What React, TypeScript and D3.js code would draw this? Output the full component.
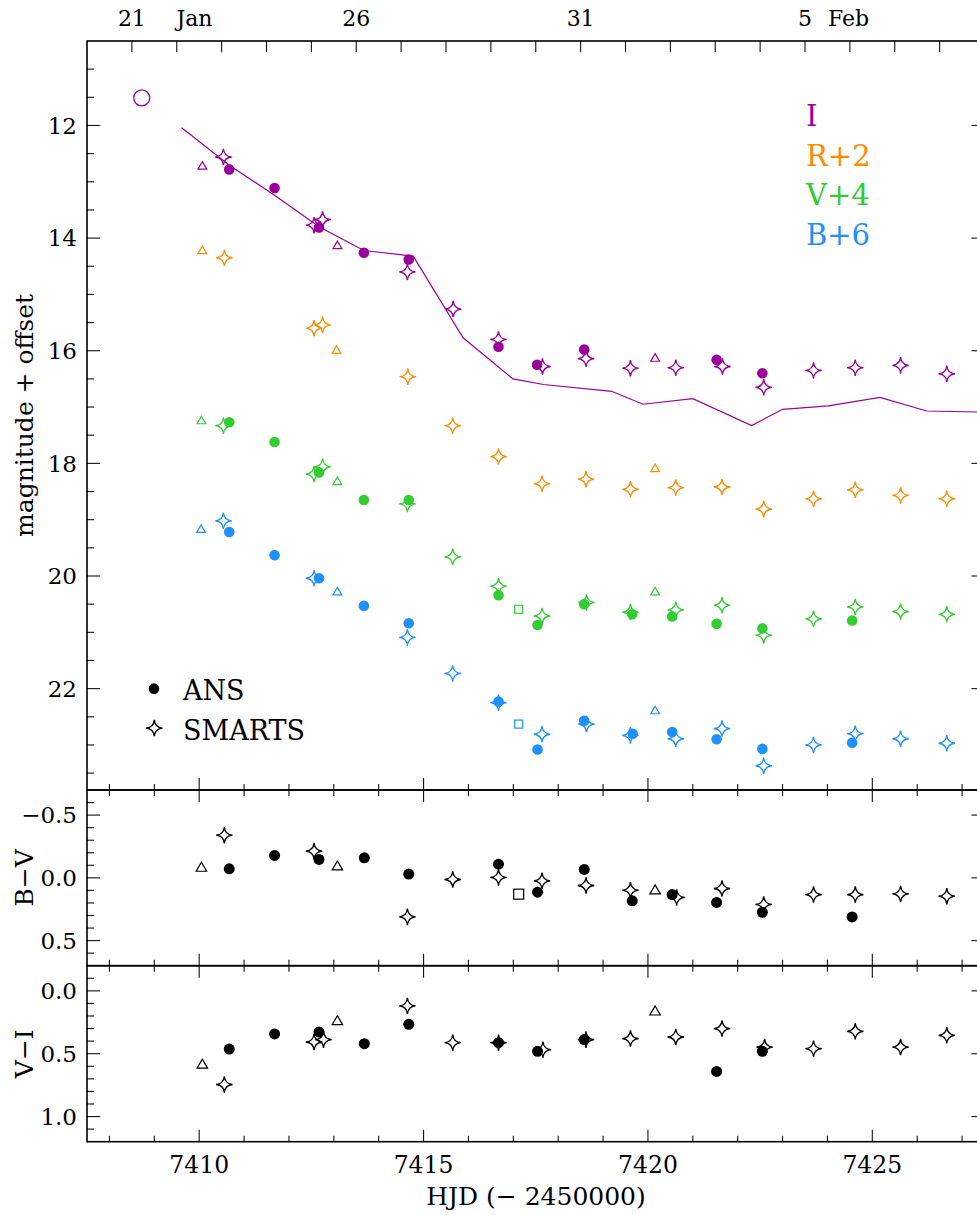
import React from "react";
import * as d3 from "d3";

// ---------- data (HJD - 2450000, magnitude + offset) ----------
const I_ANS: [number, number][] = [
  [7410.67, 12.78], [7411.68, 13.11], [7412.67, 13.81], [7413.67, 14.26], [7414.67, 14.38],
  [7416.67, 15.93], [7417.53, 16.25], [7418.58, 15.98], [7421.53, 16.16], [7422.55, 16.40],
];
const I_SMARTS: [number, number][] = [
  [7410.54, 12.56], [7412.56, 13.77], [7412.75, 13.67], [7414.64, 14.60], [7415.66, 15.26],
  [7416.67, 15.80], [7417.65, 16.28], [7418.62, 16.14], [7419.61, 16.31], [7420.62, 16.30],
  [7421.66, 16.28], [7422.58, 16.65], [7423.69, 16.35], [7424.62, 16.30], [7425.63, 16.26],
  [7426.66, 16.41],
];
const I_OTHER: [number, number][] = [[7410.07, 12.72], [7413.08, 14.13], [7420.16, 16.13]];
const I_EARLY: [number, number][] = [[7408.72, 11.51]];
const I_CURVE: [number, number][] = [
  [7409.61, 12.04], [7410.68, 12.71], [7411.72, 13.26], [7412.67, 13.80], [7413.67, 14.22],
  [7414.77, 14.32], [7415.88, 15.77], [7416.99, 16.50], [7417.67, 16.60], [7419.19, 16.72],
  [7419.89, 16.95], [7421.0, 16.85], [7422.31, 17.33], [7423.0, 17.04], [7424.02, 16.98],
  [7425.17, 16.83], [7426.21, 17.07], [7427.5, 17.09],
];

const R_SMARTS: [number, number][] = [
  [7410.56, 14.35], [7412.56, 15.60], [7412.75, 15.54], [7414.65, 16.46], [7415.65, 17.33],
  [7416.67, 17.88], [7417.64, 18.36], [7418.62, 18.28], [7419.61, 18.46], [7420.62, 18.43],
  [7421.65, 18.42], [7422.58, 18.81], [7423.69, 18.63], [7424.62, 18.47], [7425.63, 18.57],
  [7426.66, 18.63],
];
const R_OTHER: [number, number][] = [[7410.07, 14.22], [7413.06, 15.99], [7420.16, 18.09]];

const V_ANS: [number, number][] = [
  [7410.67, 17.27], [7411.68, 17.62], [7412.67, 18.16], [7413.67, 18.65], [7414.67, 18.65],
  [7416.67, 20.34], [7417.54, 20.87], [7418.58, 20.50], [7419.65, 20.68], [7420.54, 20.72],
  [7421.53, 20.85], [7422.55, 20.93], [7424.55, 20.79],
];
const V_SMARTS: [number, number][] = [
  [7410.54, 17.33], [7412.56, 18.19], [7412.75, 18.06], [7414.64, 18.72], [7415.65, 19.66],
  [7416.67, 20.18], [7417.64, 20.71], [7418.63, 20.47], [7419.61, 20.64], [7420.62, 20.60],
  [7421.65, 20.52], [7422.58, 21.05], [7423.69, 20.76], [7424.62, 20.55], [7425.63, 20.63],
  [7426.66, 20.68],
];
const V_OTHER: [number, number][] = [[7410.05, 17.24], [7413.08, 18.32], [7420.16, 20.28]];
const V_SQUARE: [number, number][] = [[7417.12, 20.59]];

const B_ANS: [number, number][] = [
  [7410.67, 19.22], [7411.68, 19.63], [7412.67, 20.04], [7413.67, 20.53], [7414.67, 20.84],
  [7416.67, 22.23], [7417.54, 23.08], [7418.58, 22.57], [7419.66, 22.80], [7420.54, 22.77],
  [7421.53, 22.90], [7422.55, 23.07], [7424.55, 22.96],
];
const B_SMARTS: [number, number][] = [
  [7410.54, 19.02], [7412.56, 20.04], [7414.64, 21.09], [7415.65, 21.73], [7416.67, 22.25],
  [7417.64, 22.81], [7418.63, 22.63], [7419.61, 22.83], [7420.62, 22.89], [7421.65, 22.71],
  [7422.58, 23.37], [7423.69, 23.00], [7424.62, 22.80], [7425.63, 22.89], [7426.66, 22.97],
];
const B_OTHER: [number, number][] = [[7410.04, 19.17], [7413.08, 20.28], [7420.16, 22.39]];
const B_SQUARE: [number, number][] = [[7417.12, 22.63]];

const BV_ANS: [number, number][] = [
  [7410.67, -0.072], [7411.68, -0.179], [7412.67, -0.147], [7413.68, -0.16], [7414.67, -0.03],
  [7416.67, -0.109], [7417.54, 0.114], [7418.58, -0.067], [7419.65, 0.183], [7420.54, 0.133],
  [7421.53, 0.196], [7422.55, 0.274], [7424.55, 0.311],
];
const BV_SMARTS: [number, number][] = [
  [7410.56, -0.34], [7412.56, -0.213], [7414.64, 0.311], [7415.65, 0.013], [7416.67, -0.003],
  [7417.64, 0.024], [7418.62, 0.061], [7419.61, 0.098], [7420.64, 0.156], [7421.65, 0.085],
  [7422.58, 0.212], [7423.69, 0.133], [7424.62, 0.133], [7425.63, 0.128], [7426.66, 0.146],
];
const BV_OTHER: [number, number][] = [[7410.05, -0.083], [7413.08, -0.093], [7420.16, 0.098]];
const BV_SQUARE: [number, number][] = [[7417.12, 0.13]];

const VI_ANS: [number, number][] = [
  [7410.67, 0.463], [7411.68, 0.343], [7412.67, 0.327], [7413.68, 0.42], [7414.67, 0.266],
  [7416.67, 0.412], [7417.54, 0.481], [7418.58, 0.388], [7421.53, 0.641], [7422.55, 0.481],
];
const VI_SMARTS: [number, number][] = [
  [7410.56, 0.745], [7412.56, 0.407], [7412.77, 0.388], [7414.64, 0.12], [7415.65, 0.412],
  [7416.67, 0.412], [7417.66, 0.468], [7418.62, 0.388], [7419.61, 0.38], [7420.62, 0.367],
  [7421.65, 0.30], [7422.6, 0.447], [7423.69, 0.46], [7424.62, 0.322], [7425.63, 0.447],
  [7426.66, 0.354],
];
const VI_OTHER: [number, number][] = [[7410.07, 0.585], [7413.08, 0.239], [7420.16, 0.162]];

const MAG_TICKS = [12, 14, 16, 18, 20, 22];
const BV_TICKS = [-0.5, 0, 0.5];
const VI_TICKS = [0, 0.5, 1.0];
const HJD_TICKS = [7410, 7415, 7420, 7425];
const DATE_LABELS = [
  { hjd: 7408.5, day: "21", month: "Jan" },
  { hjd: 7413.5, day: "26", month: "" },
  { hjd: 7418.5, day: "31", month: "" },
  { hjd: 7423.5, day: "5", month: "Feb" },
];
const BAND_LEGEND = ["I", "R+2", "V+4", "B+6"];

// ---------- styles ----------
const COL = { I: "#990099", R: "#ff8c00", V: "#33cc33", B: "#1e90ff", K: "#000000" };
const FONT = "'DejaVu Serif', serif";
const W = 977;
const H = 1215;

const x = d3.scaleLinear().domain([7407.5, 7427.5]).range([87, 984.5]);
const yMag = d3.scaleLinear().domain([10.5, 23.8]).range([41, 790]);
const yBV = d3.scaleLinear().domain([-0.7, 0.7]).range([790, 965.7]);
const yVI = d3.scaleLinear().domain([-0.2, 1.2]).range([965.7, 1141.7]);

function starPath(cx: number, cy: number, r: number) {
  const c = 0.08 * r;
  return `M${cx},${cy - r}Q${cx + c},${cy - c} ${cx + r},${cy}Q${cx + c},${cy + c} ${cx},${cy + r}Q${cx - c},${cy + c} ${cx - r},${cy}Q${cx - c},${cy - c} ${cx},${cy - r}Z`;
}
function triPath(cx: number, cy: number, s: number) {
  const h = s * 0.86;
  return `M${cx},${cy - h * 0.58}L${cx + s / 2},${cy + h * 0.42}L${cx - s / 2},${cy + h * 0.42}Z`;
}

type Pt = [number, number];
function Circles({ data, y, color, r = 5.3 }: { data: Pt[]; y: any; color: string; r?: number }) {
  return <g>{data.map((d, i) => <circle key={i} cx={x(d[0])} cy={y(d[1])} r={r} fill={color} />)}</g>;
}
function Stars({ data, y, color, r = 8.2 }: { data: Pt[]; y: any; color: string; r?: number }) {
  return (
    <g>
      {data.map((d, i) => (
        <path key={i} d={starPath(x(d[0]), y(d[1]), r)} fill="none" stroke={color} strokeWidth={1.3} strokeLinejoin="miter" />
      ))}
    </g>
  );
}
function Tris({ data, y, color, s = 8.8 }: { data: Pt[]; y: any; color: string; s?: number }) {
  return (
    <g>
      {data.map((d, i) => (
        <path key={i} d={triPath(x(d[0]), y(d[1]), s)} fill="none" stroke={color} strokeWidth={1.2} />
      ))}
    </g>
  );
}
function Squares({ data, y, color, s = 8 }: { data: Pt[]; y: any; color: string; s?: number }) {
  return (
    <g>
      {data.map((d, i) => (
        <rect key={i} x={x(d[0]) - s / 2} y={y(d[1]) - s / 2} width={s} height={s} fill="none" stroke={color} strokeWidth={1.2} />
      ))}
    </g>
  );
}

function Panel({ y, major, minorStep, labels, topDates }: { y: any; major: number[]; minorStep: number; labels: (v: number) => string; topDates?: boolean }) {
  const [d0, d1] = y.domain();
  const lo = Math.min(d0, d1), hi = Math.max(d0, d1);
  const [r0, r1] = y.range();
  const top = Math.min(r0, r1), bot = Math.max(r0, r1);
  const left = 87, right = 984.5;
  const minors: number[] = [];
  for (let v = Math.ceil(lo / minorStep - 1e-6) * minorStep; v <= hi + 1e-9; v += minorStep) {
    const vv = Math.round(v * 1000) / 1000;
    if (Math.abs(y(vv) - top) < 1 || Math.abs(y(vv) - bot) < 1) continue;
    if (major.some((m) => Math.abs(m - vv) < 1e-6)) continue;
    minors.push(vv);
  }
  const days = d3.range(7408, 7428, 1);
  const dateTicks = d3.range(7408.5, 7427.5, 1);
  const tk = { stroke: "#111", strokeWidth: 1.1 };
  return (
    <g>
      {major.map((v) => (
        <g key={"M" + v}>
          <line x1={left} x2={left + 13} y1={y(v)} y2={y(v)} {...tk} />
          <line x1={right} x2={right - 13} y1={y(v)} y2={y(v)} {...tk} />
          <text x={77} y={y(v)} dy="0.36em" textAnchor="end" fontFamily={FONT} fontSize={23} fill="#000">
            {labels(v)}
          </text>
        </g>
      ))}
      {minors.map((v) => (
        <g key={"m" + v}>
          <line x1={left} x2={left + 7} y1={y(v)} y2={y(v)} {...tk} />
          <line x1={right} x2={right - 7} y1={y(v)} y2={y(v)} {...tk} />
        </g>
      ))}
      {days.map((dd) => {
        const isMajor = dd % 5 === 0;
        const L = isMajor ? 12 : 6;
        return (
          <g key={"d" + dd}>
            <line x1={x(dd)} x2={x(dd)} y1={bot} y2={bot - L} {...tk} />
            {!topDates && <line x1={x(dd)} x2={x(dd)} y1={top} y2={top + L} {...tk} />}
          </g>
        );
      })}
      {topDates &&
        dateTicks.map((t) => <line key={"t" + t} x1={x(t)} x2={x(t)} y1={top} y2={top + 11} {...tk} />)}
      <rect x={left} y={top} width={right - left} height={bot - top} fill="none" stroke="#000" strokeWidth={1.6} />
    </g>
  );
}

export default function App() {
  const line = d3
    .line<Pt>()
    .x((d) => x(d[0]))
    .y((d) => yMag(d[1]));
  const fmtMag = (v: number) => String(v);
  const fmt1 = (v: number) => (v < 0 ? "\u2212" : "") + Math.abs(v).toFixed(1);
  return (
    <svg width={W} height={H} viewBox={`0 0 ${W} ${H}`} style={{ position: "absolute", left: 0, top: 0, background: "#fff" }}>
      <rect x={0} y={0} width={W} height={H} fill="#fff" />
      <defs>
        <clipPath id="clipTop">
          <rect x={87} y={41} width={897.5} height={749} />
        </clipPath>
      </defs>

      {/* top panel */}
      <Panel y={yMag} major={MAG_TICKS} minorStep={0.5} labels={fmtMag} topDates />
      <g clipPath="url(#clipTop)">
        <path d={line(I_CURVE) || ""} fill="none" stroke={COL.I} strokeWidth={1.2} />
        <circle cx={x(I_EARLY[0][0])} cy={yMag(I_EARLY[0][1])} r={8} fill="none" stroke={COL.I} strokeWidth={1.3} />
        <Tris data={I_OTHER} y={yMag} color={COL.I} />
        <Tris data={R_OTHER} y={yMag} color={COL.R} />
        <Tris data={V_OTHER} y={yMag} color={COL.V} />
        <Tris data={B_OTHER} y={yMag} color={COL.B} />
        <Squares data={V_SQUARE} y={yMag} color={COL.V} />
        <Squares data={B_SQUARE} y={yMag} color={COL.B} />
        <Circles data={I_ANS} y={yMag} color={COL.I} />
        <Circles data={V_ANS} y={yMag} color={COL.V} />
        <Circles data={B_ANS} y={yMag} color={COL.B} />
        <Stars data={I_SMARTS} y={yMag} color={COL.I} />
        <Stars data={R_SMARTS} y={yMag} color={COL.R} />
        <Stars data={V_SMARTS} y={yMag} color={COL.V} />
        <Stars data={B_SMARTS} y={yMag} color={COL.B} />
      </g>
      {/* band legend */}
      {BAND_LEGEND.map((t, i) => (
        <text key={t} x={806} y={126 + i * 39.6} fontFamily={FONT} fontSize={29} fill={[COL.I, COL.R, COL.V, COL.B][i]}>
          {t}
        </text>
      ))}
      {/* source legend */}
      <circle cx={154} cy={yMag(22)} r={5.3} fill="#000" />
      <path d={starPath(154.3, yMag(22.7), 8.2)} fill="none" stroke="#000" strokeWidth={1.3} />
      <text x={183} y={700} fontFamily={FONT} fontSize={27} fill="#000">ANS</text>
      <text x={183} y={740} fontFamily={FONT} fontSize={27} fill="#000">SMARTS</text>

      {/* date labels on top */}
      {DATE_LABELS.map((d) => (
        <g key={d.day}>
          <text x={x(d.hjd)} y={26} textAnchor="middle" fontFamily={FONT} fontSize={22} fill="#000">{d.day}</text>
          {d.month && (
            <text x={x(d.hjd) + (d.day.length === 2 ? 44.5 : 23)} y={26} fontFamily={FONT} fontSize={22} fill="#000">{d.month}</text>
          )}
        </g>
      ))}

      {/* B-V panel */}
      <Panel y={yBV} major={BV_TICKS} minorStep={0.1} labels={fmt1} />
      <Tris data={BV_OTHER} y={yBV} color={COL.K} s={10.5} />
      <Squares data={BV_SQUARE} y={yBV} color={COL.K} s={10} />
      <Circles data={BV_ANS} y={yBV} color={COL.K} r={5.5} />
      <Stars data={BV_SMARTS} y={yBV} color={COL.K} />

      {/* V-I panel */}
      <Panel y={yVI} major={VI_TICKS} minorStep={0.1} labels={fmt1} />
      <Tris data={VI_OTHER} y={yVI} color={COL.K} s={10.5} />
      <Circles data={VI_ANS} y={yVI} color={COL.K} r={5.5} />
      <Stars data={VI_SMARTS} y={yVI} color={COL.K} />

      {/* bottom axis labels */}
      {HJD_TICKS.map((t) => (
        <text key={t} x={x(t)} y={1173} textAnchor="middle" fontFamily={FONT} fontSize={23.5} fill="#000">{t}</text>
      ))}
      <text x={536} y={1205} textAnchor="middle" fontFamily={FONT} fontSize={25} fill="#000">
        HJD (− 2450000)
      </text>
      <text transform={`translate(33,${(41 + 790) / 2}) rotate(-90)`} textAnchor="middle" fontFamily={FONT} fontSize={25} fill="#000">
        magnitude + offset
      </text>
      <text transform={`translate(33,${(790 + 965.7) / 2}) rotate(-90)`} textAnchor="middle" fontFamily={FONT} fontSize={25} fill="#000">
        B−V
      </text>
      <text transform={`translate(33,${(965.7 + 1141.7) / 2}) rotate(-90)`} textAnchor="middle" fontFamily={FONT} fontSize={25} fill="#000">
        V−I
      </text>
    </svg>
  );
}
